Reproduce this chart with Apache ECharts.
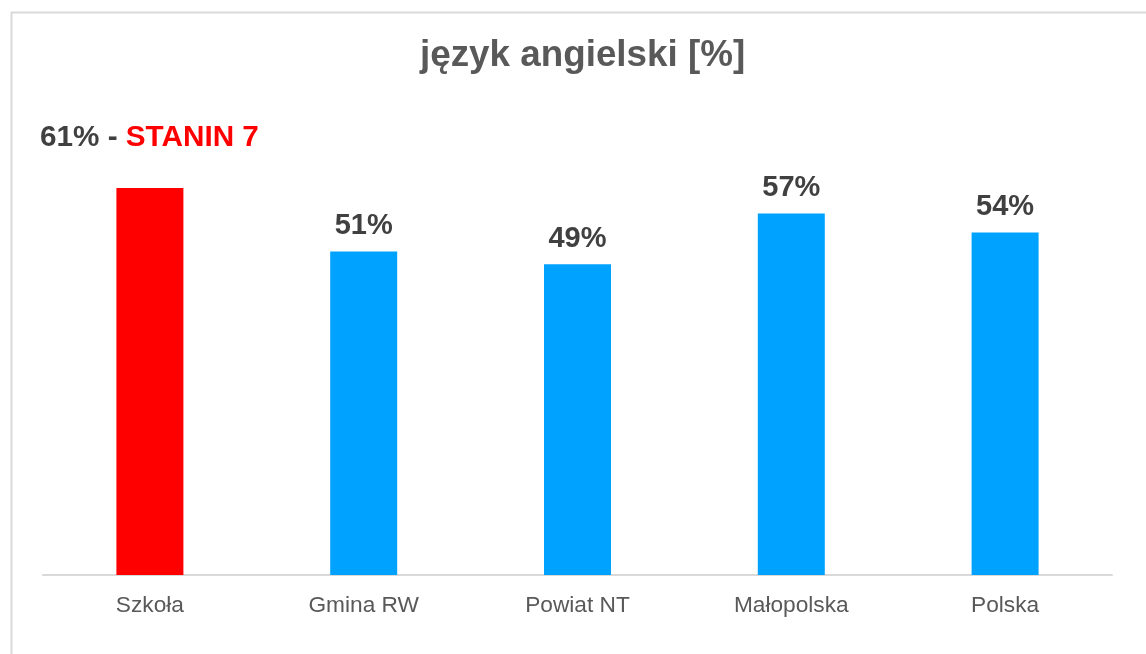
<!DOCTYPE html>
<html>
<head>
<meta charset="utf-8">
<script src="https://cdn.jsdelivr.net/npm/echarts@6/dist/echarts.min.js"></script>
<style>
  html, body { margin: 0; padding: 0; background: #fff; }
  #chart { width: 1146px; height: 654px; }
</style>
</head>
<body>
<div id="chart"></div>
<script>
var categories = ["Szkoła", "Gmina RW", "Powiat NT", "Małopolska", "Polska"];
var values = [61, 51, 49, 57, 54];
var barColors = ["#FF0000", "#00A2FF", "#00A2FF", "#00A2FF", "#00A2FF"];
var stanin = 7;

var chart = echarts.init(document.getElementById("chart"));

var seriesData = values.map(function (v, i) {
  return {
    value: v,
    itemStyle: { color: barColors[i] },
    // szkoła ma własny opis w lewym górnym rogu
    label: { show: i !== 0 }
  };
});

var option = {
  backgroundColor: "#fff",
  textStyle: { fontFamily: "Liberation Sans, Arial, sans-serif" },
  title: {
    text: "język angielski [%]",
    left: 415,
    top: 32,
    textStyle: {
      fontSize: 36.8,
      fontWeight: "bold",
      color: "#595959",
      fontFamily: "Liberation Sans, Arial, sans-serif"
    }
  },
  graphic: [
    {
      type: "rect",
      left: 9,
      top: 10,
      shape: { width: 1160, height: 700 },
      style: { fill: "none", stroke: "#d9d9d9", lineWidth: 2 },
      silent: true
    },
    {
      type: "text",
      left: 40,
      top: 123,
      style: {
        text: "{a|" + values[0] + "% - }{b|STANIN " + stanin + "}",
        rich: {
          a: { fontSize: 29.7, fontWeight: "bold", fill: "#404040", fontFamily: "Liberation Sans, Arial, sans-serif" },
          b: { fontSize: 29.7, fontWeight: "bold", fill: "#FF0000", fontFamily: "Liberation Sans, Arial, sans-serif" }
        }
      }
    }
  ],
  grid: {
    left: 43,
    right: 34,
    top: 131,
    bottom: 79
  },
  xAxis: {
    type: "category",
    data: categories,
    axisLine: { show: true, lineStyle: { color: "#d9d9d9", width: 2 } },
    axisTick: { show: false },
    axisLabel: {
      color: "#595959",
      fontSize: 22.7,
      margin: 19,
      interval: 0
    }
  },
  yAxis: {
    type: "value",
    min: 0,
    max: 70,
    show: false,
    splitLine: { show: false }
  },
  series: [
    {
      type: "bar",
      data: seriesData,
      barWidth: 67,
      label: {
        show: true,
        position: "top",
        distance: 11,
        formatter: "{c}%",
        fontSize: 29,
        fontWeight: "bold",
        color: "#404040"
      }
    }
  ]
};

chart.setOption(option);
</script>
</body>
</html>
